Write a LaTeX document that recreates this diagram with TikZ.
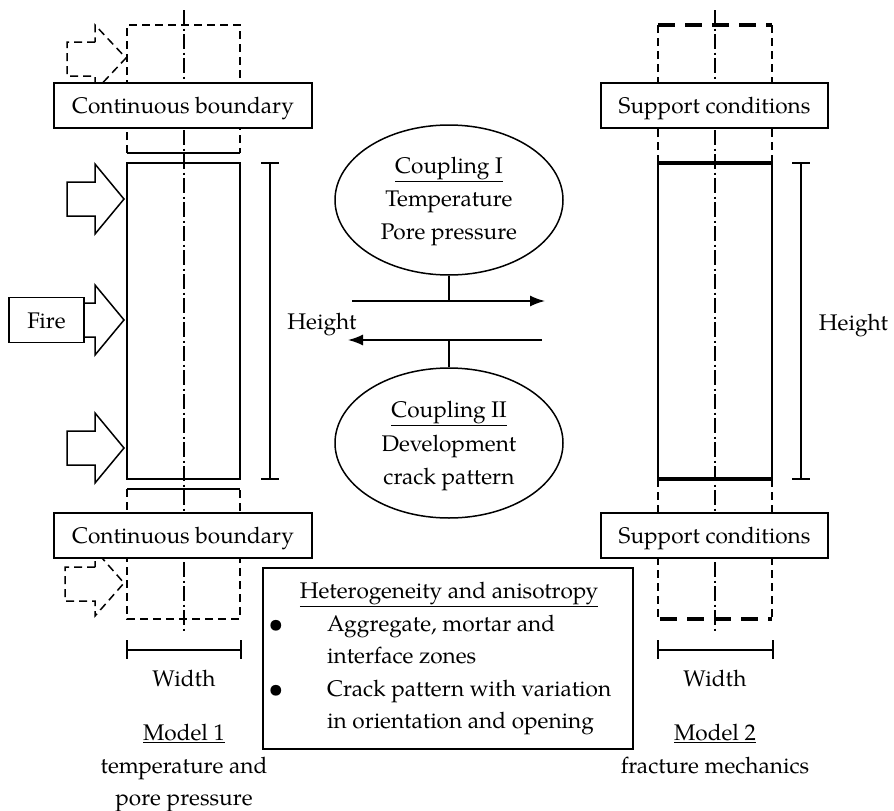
\documentclass[tikz,border=0pt]{standalone}
\usepackage{fontspec}
\setmainfont{TeX Gyre Pagella}
\usetikzlibrary{shapes.geometric,arrows.meta}
\begin{document}
\begin{tikzpicture}[x=1pt,y=-1pt,
  every node/.style={font=\fontsize{22.6}{33}\selectfont, inner sep=0pt},
  lbl/.style={draw, line width=1.5pt, fill=white, minimum height=45pt},
  body/.style={line width=1.8pt},
  dsh/.style={line width=1.5pt, dash pattern=on 8pt off 5pt},
  thickdsh/.style={line width=3.4pt, dash pattern=on 17pt off 10pt},
  axisline/.style={line width=1.3pt, dash pattern=on 15pt off 3.5pt on 2pt off 3.5pt},
  dim/.style={line width=1.5pt},
  firearrow/.style={line width=1.5pt, fill=white},
  oval/.style={draw, ellipse, line width=1.5pt, minimum width=228pt, minimum height=150pt},
  flow/.style={line width=1.5pt, -{Latex[length=15pt,width=11pt]}},
  txt/.style={anchor=base},
  bul/.style={anchor=base, font=\fontsize{27}{33}\selectfont},
]
\useasboundingbox (0,0) rectangle (894,811);

% ---------- Model 1 (left) ----------
\draw[axisline] (184,10) -- (184,632);
\draw[dsh] (127,153) -- (127,25) -- (240,25) -- (240,153);
\draw[body] (127,153) -- (240,153);
\draw[body] (127,163) rectangle (240,479);
\draw[body] (127,489) -- (240,489);
\draw[dsh] (127,489) -- (127,619) -- (240,619) -- (240,489);

% dashed fire arrows
\draw[dsh] (95,42) -- (67,42) -- (67,76) -- (95,76) -- (95,91) -- (126,58) -- (95,25) -- cycle;
\draw[dsh] (95,567) -- (65,567) -- (65,601) -- (95,601) -- (95,616) -- (124,583) -- (95,550) -- cycle;

% solid fire arrows
\foreach \yy in {199,320,448}{
  \draw[firearrow] (67,\yy-17) -- (95,\yy-17) -- (95,\yy-35) -- (124,\yy) -- (95,\yy+35) -- (95,\yy+17) -- (67,\yy+17) -- cycle;
}
\node[lbl, minimum width=75pt] (fire) at (46.5,320) {};
\node[txt] (firetxt) at (46.5,328) {Fire};

\node[lbl, minimum width=258pt] (cb1) at (183,105.5) {};
\node[txt] (cb1t) at (183,113) {Continuous boundary};
\node[lbl, minimum width=258pt] (cb2) at (183,535.5) {};
\node[txt] (cb2t) at (183,543) {Continuous boundary};

\draw[dim] (261,163) -- (279,163) (270,163) -- (270,479) (261,479) -- (279,479);
\node[txt] (h1) at (322,329) {Height};

\draw[dim] (127,640) -- (127,659) (127,650) -- (241,650) (241,640) -- (241,659);
\node[txt] (w1) at (184,686) {Width};
\node[txt] (m1) at (184,740) {\underline{Model 1}};
\node[txt] (m1a) at (184,773) {temperature and};
\node[txt] (m1b) at (184,805) {pore pressure};

% ---------- Model 2 (right) ----------
\draw[axisline] (715,10) -- (715,633);
\draw[dsh] (658,163) -- (658,25);
\draw[dsh] (772,25) -- (772,163);
\draw[thickdsh] (658,25) -- (772,25);
\draw[body] (658,163) -- (658,479);
\draw[body] (772,163) -- (772,479);
\draw[line width=3.2pt] (658,163) -- (772,163);
\draw[line width=3.2pt] (658,479) -- (772,479);
\draw[dsh] (658,479) -- (658,619);
\draw[dsh] (772,479) -- (772,619);
\draw[thickdsh] (660,619) -- (772,619);

\node[lbl, minimum width=227pt] (sc1) at (714.5,105.5) {};
\node[txt] (sc1t) at (714.5,113) {Support conditions};
\node[lbl, minimum width=227pt] (sc2) at (714.5,535.5) {};
\node[txt] (sc2t) at (714.5,543) {Support conditions};

\draw[dim] (792,163) -- (810,163) (801,163) -- (801,479) (792,479) -- (810,479);
\node[txt] (h2) at (853.5,330) {Height};

\draw[dim] (658,640) -- (658,659) (658,650) -- (773,650) (773,640) -- (773,659);
\node[txt] (w2) at (715,686) {Width};
\node[txt] (m2) at (715,740) {\underline{Model 2}};
\node[txt] (m2a) at (715,773) {fracture mechanics};

% ---------- Coupling ----------
\node[oval] (c1) at (449,200) {};
\node[txt] (c1a) at (449,173) {\underline{Coupling I}};
\node[txt] (c1b) at (449,206) {Temperature};
\node[txt] (c1c) at (449,239) {Pore pressure};

\node[oval] (c2) at (449,443) {};
\node[txt] (c2a) at (449,417) {\underline{Coupling II}};
\node[txt] (c2b) at (449,451) {Development};
\node[txt] (c2c) at (449,484) {crack pattern};

\coordinate (a1s) at (352,301);
\coordinate (a1e) at (545,301);
\coordinate (a2s) at (542,340);
\coordinate (a2e) at (348,340);
\draw[flow] (a1s) -- (a1e);
\draw[flow] (a2s) -- (a2e);
\draw[line width=1.5pt] (c1.south) -- (c1.south |- a1s);
\draw[line width=1.5pt] (c2.north) -- (c2.north |- a2s);

% ---------- Heterogeneity box ----------
\node[draw, line width=1.6pt, minimum width=370pt, minimum height=181pt] (het) at (448,658.5) {};
\node[txt] (het0) at (449,598) {\underline{Heterogeneity and anisotropy}};
\node[bul] (b1) at (276,632) {\textbullet};
\node[txt, anchor=base west] (het1) at (327,631) {Aggregate, mortar and};
\node[txt, anchor=base west] (het2) at (327,663) {interface zones};
\node[bul] (b2) at (276,697) {\textbullet};
\node[txt, anchor=base west] (het3) at (327,696) {Crack pattern with variation};
\node[txt, anchor=base west] (het4) at (327,728) {in orientation and opening};
\end{tikzpicture}
\end{document}
